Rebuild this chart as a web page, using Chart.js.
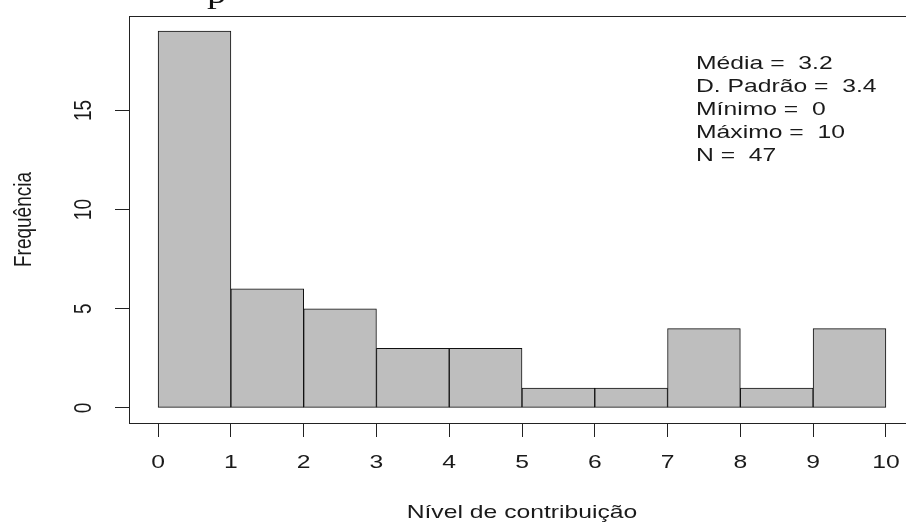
<!DOCTYPE html>
<html>
<head>
<meta charset="utf-8">
<script src="https://cdn.jsdelivr.net/npm/chart.js@4"></script>
<style>
  html, body { margin: 0; padding: 0; background: #fff; overflow: hidden; width: 906px; height: 525px; }
  #wrap { position: absolute; left: 0; top: 0; width: 930px; height: 525px; }
  #frag { position: absolute; left: 207px; top: -22px; font-family: "Liberation Serif", serif; font-size: 30px; line-height: 30px; color: #111; transform: scaleX(1.3); transform-origin: left top; }
</style>
</head>
<body>
<div id="wrap"><canvas id="c" width="930" height="525"></canvas></div>
<div id="frag">p</div>
<script>
// Histogram classes (edges) and counts
const binEdges = [0, 1, 2, 3, 4, 5, 6, 7, 8, 9, 10];
const frequencies = [19, 6, 5, 3, 3, 1, 1, 4, 1, 4];
const xTickValues = [0, 1, 2, 3, 4, 5, 6, 7, 8, 9, 10];
const yTickValues = [0, 5, 10, 15];
const statLines = ["Média =  3.2", "D. Padrão =  3.4", "Mínimo =  0", "Máximo =  10", "N =  47"];
const xTitle = "Nível de contribuição";
const yTitle = "Frequência";

const FONT = '"Liberation Sans", Arial, sans-serif';
const INK = '#1a1a1a';
const WIDEN = 1.3; // horizontal stretch applied to all lettering

const barPoints = frequencies.map((f, i) => ({ x: (binEdges[i] + binEdges[i + 1]) / 2, y: f }));

// Writes text at (x, y) with a horizontal stretch, optionally rotated
function stretchedText(ctx, text, x, y, rotate) {
  ctx.save();
  ctx.translate(x, y);
  ctx.scale(WIDEN, 1);
  if (rotate) ctx.rotate(-Math.PI / 2);
  ctx.fillText(text, 0, 0);
  ctx.restore();
}

// Frame, tick labels, axis titles and summary text
const decorations = {
  id: 'decorations',
  afterDraw(chart) {
    const { ctx, chartArea: a, scales } = chart;
    ctx.save();
    ctx.strokeStyle = '#222';
    ctx.lineWidth = 1;
    ctx.strokeRect(Math.round(a.left) + 0.5, Math.round(a.top) + 0.5,
                   Math.round(a.right - a.left), Math.round(a.bottom - a.top));

    ctx.fillStyle = INK;
    ctx.font = '19px ' + FONT;
    ctx.textAlign = 'center';
    ctx.textBaseline = 'middle';

    yTickValues.forEach(v => stretchedText(ctx, String(v), 84, scales.y.getPixelForValue(v), true));
    xTickValues.forEach(v => stretchedText(ctx, String(v), scales.x.getPixelForValue(v), 463, false));

    stretchedText(ctx, yTitle, 24, (a.top + a.bottom) / 2, true);
    stretchedText(ctx, xTitle, (a.left + a.right) / 2, 513, false);

    ctx.textAlign = 'left';
    ctx.textBaseline = 'alphabetic';
    statLines.forEach((s, i) => stretchedText(ctx, s, 696, 69 + i * 23, false));
    ctx.restore();
  }
};

new Chart(document.getElementById('c'), {
  type: 'bar',
  data: {
    datasets: [{
      data: barPoints,
      backgroundColor: '#bebebe',
      borderColor: '#111',
      borderWidth: 1,
      borderSkipped: false,
      barPercentage: 1,
      categoryPercentage: 1
    }]
  },
  options: {
    responsive: false,
    animation: false,
    devicePixelRatio: 1,
    layout: { padding: { left: 0, top: 16, right: 15, bottom: 0 } },
    plugins: { legend: { display: false }, tooltip: { enabled: false }, title: { display: false } },
    scales: {
      x: {
        type: 'linear',
        offset: false,
        min: -0.4,
        max: 10.4,
        afterBuildTicks: s => { s.ticks = xTickValues.map(v => ({ value: v })); },
        afterFit: s => { s.height = 102; },
        grid: { offset: false, drawOnChartArea: false, drawTicks: true, tickLength: 14, color: '#222', lineWidth: 1 },
        border: { display: false },
        ticks: { display: false }
      },
      y: {
        min: -0.76,
        max: 19.76,
        afterBuildTicks: s => { s.ticks = yTickValues.map(v => ({ value: v })); },
        afterFit: s => { s.width = 129; },
        grid: { drawOnChartArea: false, drawTicks: true, tickLength: 14, color: '#222', lineWidth: 1 },
        border: { display: false },
        ticks: { display: false }
      }
    }
  },
  plugins: [decorations]
});
</script>
</body>
</html>
